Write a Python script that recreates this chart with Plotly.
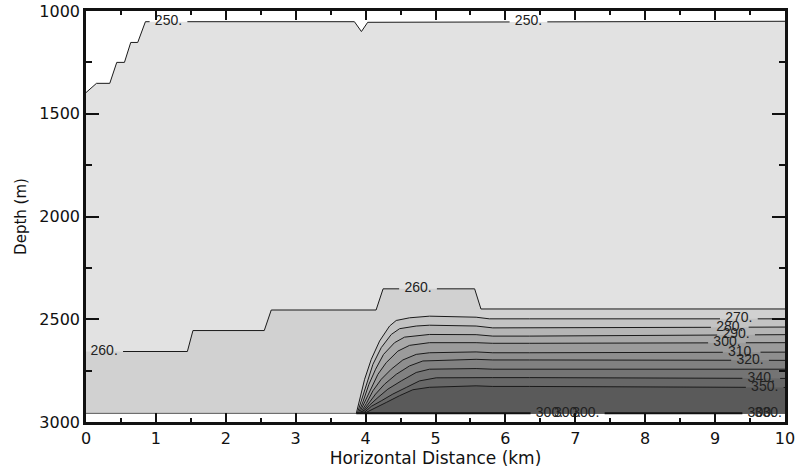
import plotly.graph_objects as go

# ---- isotherms (horizontal distance in km, depth in m) ----
t250_km = [0.0, 0.15, 0.34, 0.44, 0.55, 0.64, 0.74, 0.85, 3.84, 3.94, 4.03, 10.0]
t250_dep = [1397, 1352, 1352, 1250, 1250, 1153, 1153, 1052, 1052, 1100, 1055, 1050]

t260_km = [0.0, 1.45, 1.53, 2.55, 2.65, 4.15, 4.25, 5.56, 5.65, 10.0]
t260_dep = [2657, 2657, 2555, 2555, 2455, 2455, 2352, 2352, 2450, 2450]

t270_km = [3.867, 3.914, 3.986, 4.081, 4.20, 4.343, 4.438, 4.629, 4.914, 5.581, 5.771, 6.343, 10.0]
t270_dep = [2958, 2889, 2792, 2695, 2606, 2533, 2506, 2493, 2485, 2490, 2498, 2498, 2498]

t280_km = [3.881, 3.938, 4.019, 4.105, 4.224, 4.367, 4.486, 4.724, 4.914, 5.581, 5.819, 6.343, 10.0]
t280_dep = [2958, 2897, 2800, 2719, 2638, 2574, 2546, 2533, 2529, 2533, 2542, 2542, 2538]

t290_km = [3.895, 3.962, 4.048, 4.143, 4.257, 4.414, 4.557, 4.914, 5.581, 5.819, 6.343, 10.0]
t290_dep = [2958, 2902, 2816, 2743, 2671, 2614, 2587, 2574, 2575, 2582, 2582, 2575]

t300_km = [3.910, 3.986, 4.081, 4.176, 4.295, 4.462, 4.629, 4.914, 5.581, 5.819, 6.343, 10.0]
t300_dep = [2958, 2905, 2832, 2768, 2711, 2655, 2627, 2614, 2614, 2617, 2617, 2614]

t310_km = [3.924, 4.010, 4.105, 4.224, 4.367, 4.533, 4.724, 4.914, 5.581, 5.819, 6.343, 10.0]
t310_dep = [2958, 2910, 2848, 2792, 2743, 2698, 2671, 2663, 2659, 2663, 2663, 2660]

t320_km = [3.938, 4.033, 4.143, 4.271, 4.438, 4.629, 4.819, 5.581, 5.819, 6.343, 10.0]
t320_dep = [2958, 2913, 2864, 2816, 2768, 2727, 2703, 2695, 2698, 2698, 2700]

t330_km = [3.952, 4.057, 4.176, 4.319, 4.510, 4.724, 4.914, 5.581, 5.819, 6.343, 10.0]
t330_dep = [2958, 2918, 2881, 2840, 2800, 2759, 2743, 2740, 2743, 2743, 2743]

t340_km = [3.967, 4.081, 4.224, 4.390, 4.581, 4.771, 5.010, 5.581, 5.819, 6.343, 10.0]
t340_dep = [2958, 2924, 2897, 2864, 2832, 2800, 2785, 2782, 2784, 2784, 2788]

t350_km = [3.981, 4.129, 4.295, 4.486, 4.676, 4.914, 5.581, 5.819, 6.343, 10.0]
t350_dep = [2958, 2934, 2905, 2872, 2843, 2831, 2824, 2827, 2827, 2832]

# bottom of the model domain
bed_depth = 2958
bed_km = [0.0, 10.0]
bed_hot_km = [3.867, 10.0]   # where the warm isotherms collapse onto the bed

levels = [250, 260, 270, 280, 290, 300, 310, 320, 330, 340, 350]
iso_km = [t250_km, t260_km, t270_km, t280_km, t290_km, t300_km,
          t310_km, t320_km, t330_km, t340_km, t350_km]
iso_dep = [t250_dep, t260_dep, t270_dep, t280_dep, t290_dep, t300_dep,
           t310_dep, t320_dep, t330_dep, t340_dep, t350_dep]
band_gray = ['#e2e2e2', '#d1d1d1', '#c3c3c3', '#b5b5b5', '#a8a8a8', '#9b9b9b',
             '#8e8e8e', '#818181', '#747474', '#676767', '#5a5a5a']

# contour labels: text, km, depth
label_text = ['250.', '250.', '260.', '260.', '270.', '280.', '290.', '300.',
              '310.', '320.', '340.', '350.', '300.', '300.', '300.', '300.', '330.']
label_km = [1.18, 6.33, 0.26, 4.75, 9.34, 9.21, 9.30, 9.17,
            9.38, 9.50, 9.66, 9.71, 6.63, 6.89, 7.15, 9.66, 9.76]
label_dep = [1052, 1052, 2657, 2352, 2498, 2538, 2572, 2614,
             2660, 2700, 2788, 2832, 2958, 2958, 2958, 2958, 2958]
label_line = [250, 250, 260, 260, 270, 280, 290, 300,
              310, 320, 340, 350, 'bed', 'bed', 'bed', 'bed', 'bed']
LABEL_HALF_KM = 0.27


def gapped(xs, ys, gaps):
    """Break an x-monotonic polyline where labels sit."""
    px, py = [xs[0]], [ys[0]]
    for i in range(1, len(xs)):
        xa, ya, xb, yb = xs[i - 1], ys[i - 1], xs[i], ys[i]
        cuts = sorted(g for gap in gaps for g in gap if xa < g < xb)
        for c in cuts:
            t = (c - xa) / (xb - xa)
            px.append(c)
            py.append(ya + t * (yb - ya))
        px.append(xb)
        py.append(yb)

    def inside(x):
        return any(a < x < b for a, b in gaps)

    ox, oy = [px[0]], [py[0]]
    for i in range(1, len(px)):
        if inside((px[i - 1] + px[i]) / 2):
            if ox[-1] is not None:
                ox.append(None)
                oy.append(None)
        else:
            if ox[-1] is None:
                ox.append(px[i - 1])
                oy.append(py[i - 1])
            ox.append(px[i])
            oy.append(py[i])
    return ox, oy


def gaps_for(key):
    return [(k - LABEL_HALF_KM, k + LABEL_HALF_KM)
            for k, ln in zip(label_km, label_line) if ln == key]


fig = go.Figure()

# filled bands: each isotherm encloses everything warmer below it
for lev, xs, ds, col in zip(levels, iso_km, iso_dep, band_gray):
    if xs[0] == 0.0:
        px = xs + [10.0, 0.0]
        py = ds + [bed_depth, bed_depth]
    else:
        px = xs + [10.0]
        py = ds + [bed_depth]
    fig.add_trace(go.Scatter(x=px, y=py, mode='lines', fill='toself',
                             fillcolor=col, line=dict(width=0),
                             hoverinfo='skip', showlegend=False))

# bed line
fig.add_trace(go.Scatter(x=bed_km, y=[bed_depth] * 2, mode='lines',
                         line=dict(color='#5a5a5a', width=1),
                         hoverinfo='skip', showlegend=False))
bx, by = gapped(bed_hot_km, [bed_depth] * 2, gaps_for('bed'))
fig.add_trace(go.Scatter(x=bx, y=by, mode='lines',
                         line=dict(color='#111111', width=2),
                         hoverinfo='skip', showlegend=False))

# isotherm lines
for lev, xs, ds in zip(levels, iso_km, iso_dep):
    lx, ly = gapped(xs, ds, gaps_for(lev))
    fig.add_trace(go.Scatter(x=lx, y=ly, mode='lines',
                             line=dict(color='#1a1a1a', width=1),
                             hoverinfo='skip', showlegend=False))

# labels
fig.add_trace(go.Scatter(x=label_km, y=label_dep, mode='text', text=label_text,
                         textposition='middle center',
                         textfont=dict(family='Liberation Sans', size=14, color='#222222'),
                         hoverinfo='skip', showlegend=False))

axis_common = dict(
    showline=True, linecolor='#111111', mirror='ticks', ticks='inside',
    tickcolor='#111111', tickwidth=2, showgrid=False, zeroline=False,
    automargin=False,
    tickfont=dict(family='DejaVu Sans', size=16, color='#111111'),
)

fig.update_layout(
    width=799, height=473,
    margin=dict(l=86, r=14, t=11, b=51, autoexpand=False),
    paper_bgcolor='white', plot_bgcolor='white',
    showlegend=False,
    xaxis=dict(
        range=[0, 10], tick0=0, dtick=1, ticklen=9, linewidth=3,
        minor=dict(dtick=0.5, ticklen=4, tickwidth=2, ticks='inside', tickcolor='#111111'),
        title=dict(text='Horizontal Distance (km)', standoff=0,
                   font=dict(family='DejaVu Sans', size=17, color='#111111')),
        **axis_common,
    ),
    yaxis=dict(
        range=[3000, 1000], tick0=1000, dtick=500, ticklen=13, linewidth=2.5,
        minor=dict(dtick=250, ticklen=6, tickwidth=2, ticks='inside', tickcolor='#111111'),
        title=dict(text='Depth (m)', standoff=10,
                   font=dict(family='DejaVu Sans', size=15, color='#111111')),
        **axis_common,
    ),
)

fig.write_html('out.html')
